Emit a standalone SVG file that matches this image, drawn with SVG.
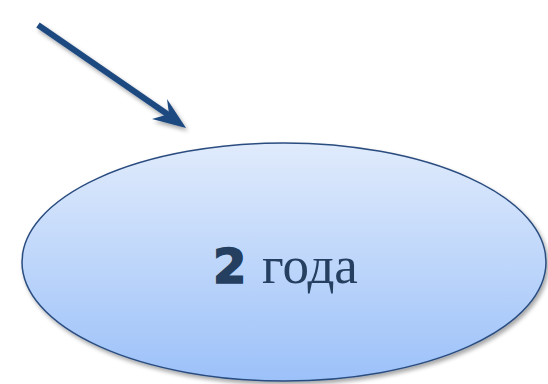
<svg xmlns="http://www.w3.org/2000/svg" width="548" height="384" viewBox="0 0 548 384">
<defs>
<linearGradient id="g" x1="0" y1="0" x2="0" y2="1">
<stop offset="0" stop-color="#E0EBFC"/>
<stop offset="1" stop-color="#9CC1F9"/>
</linearGradient>
<filter id="sh" x="-20%" y="-20%" width="140%" height="140%">
<feGaussianBlur in="SourceAlpha" stdDeviation="2"/>
<feOffset dx="2" dy="3"/>
<feComponentTransfer><feFuncA type="linear" slope="0.35"/></feComponentTransfer>
<feMerge><feMergeNode/><feMergeNode in="SourceGraphic"/></feMerge>
</filter>
<style>
.node{fill:url(#g);stroke:#2B4D80;stroke-width:1.5}
.num{font-family:"DejaVu Sans","Liberation Sans",sans-serif;font-weight:bold;font-size:48px;fill:#243F60;stroke:#243F60;stroke-width:1.6}
.lbl{font-family:"Liberation Serif",serif;font-size:53px;fill:#243F60}
.arr{stroke:#1F4A80;stroke-width:6;fill:none}
</style>
</defs>
<rect width="548" height="384" fill="#FFFFFF"/>
<g id="connectors" filter="url(#sh)">
<line class="arr" x1="38" y1="25" x2="170" y2="116"/>
<path d="M186,128 L152,119 L169,114 L167,99 Z" fill="#1F4A80"/>
</g>
<g id="node1">
<ellipse class="node" cx="284" cy="262" rx="262" ry="119" filter="url(#sh)"/>
<text x="213" y="283" class="num">2</text>
<text x="262" y="283" class="lbl">года</text>
</g>
</svg>
